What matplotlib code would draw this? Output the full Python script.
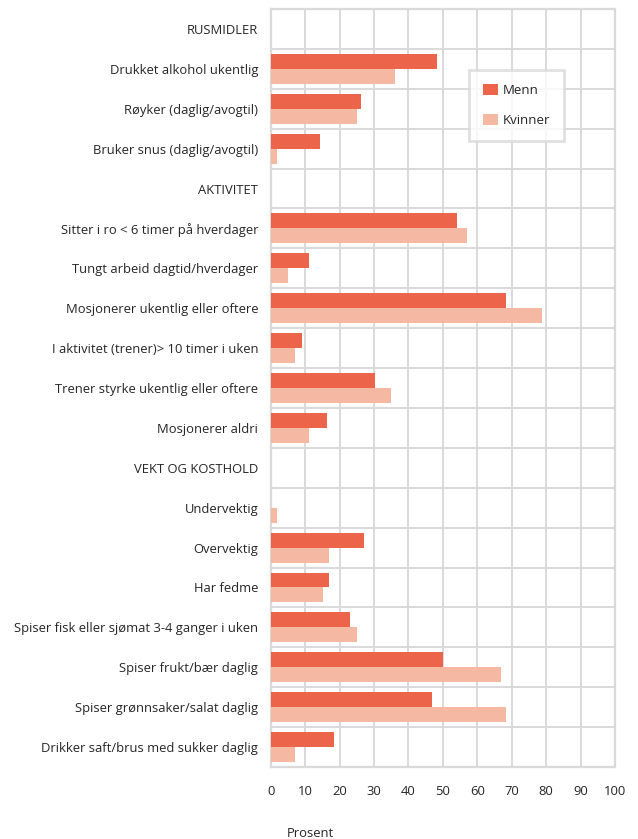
import numpy as np
import matplotlib.pyplot as plt
import matplotlib

plt.rcParams['font.family'] = ['Open Sans', 'DejaVu Sans']
plt.rcParams['font.size'] = 9.4

categories = ['RUSMIDLER', 'Drukket alkohol ukentlig', 'Røyker (daglig/avogtil)',
              'Bruker snus (daglig/avogtil)', 'AKTIVITET',
              'Sitter i ro < 6 timer på hverdager', 'Tungt arbeid dagtid/hverdager',
              'Mosjonerer ukentlig eller oftere', 'I aktivitet (trener)> 10 timer i uken',
              'Trener styrke ukentlig eller oftere', 'Mosjonerer aldri',
              'VEKT OG KOSTHOLD', 'Undervektig', 'Overvektig', 'Har fedme',
              'Spiser fisk eller sjømat 3-4 ganger i uken', 'Spiser frukt/bær daglig',
              'Spiser grønnsaker/salat daglig', 'Drikker saft/brus med sukker daglig']

menn = [0, 48.3, 26.2, 14.3, 0, 54.2, 11.1, 68.2, 9.0, 30.3, 16.3,
        0, 0, 27.1, 16.9, 23.0, 50.1, 46.9, 18.3]
kvinner = [0, 36.1, 25.0, 1.7, 0, 57.1, 5.0, 78.9, 7.0, 35.0, 11.1,
           0, 1.7, 16.9, 15.1, 25.0, 67.0, 68.2, 7.0]

c_menn = '#ec654b'
c_kvinner = '#f5b8a2'
grid_c = '#d9d9d9'

fig = plt.figure(figsize=(6.38, 8.39), dpi=100)
ax = fig.add_axes([270.7 / 638, 1 - 767 / 839, (615 - 270.7) / 638, (767 - 9) / 839])

y = np.arange(len(categories))
h = 0.375
ax.barh(y - h / 2, menn, height=h, color=c_menn, label='Menn', zorder=3)
ax.barh(y + h / 2, kvinner, height=h, color=c_kvinner, label='Kvinner', zorder=3)

ax.set_ylim(len(categories) - 0.5, -0.5)
ax.set_xlim(0, 100)
ax.set_xticks(np.arange(0, 101, 10))
ax.set_yticks(y)
ax.set_yticklabels(categories)
ax.set_yticks(np.arange(-0.5, len(categories), 1), minor=True)

ax.grid(axis='x', which='major', color=grid_c, lw=1.4, zorder=0)
ax.grid(axis='y', which='minor', color=grid_c, lw=1.4, zorder=0)
ax.tick_params(axis='both', which='both', length=0, colors='#262626')
ax.tick_params(axis='x', pad=13)
ax.tick_params(axis='y', pad=9)
for s in ax.spines.values():
    s.set_color(grid_c)
    s.set_linewidth(1.6)

ax.text(0.047, -0.0923, 'Prosent', transform=ax.transAxes, ha='left', va='baseline',
        color='#262626')

leg = ax.legend(loc='upper left', bbox_to_anchor=(469 / 638, 1 - 70 / 839),
                bbox_transform=fig.transFigure, borderaxespad=0, fontsize=9.5,
                frameon=True, fancybox=False, edgecolor=grid_c, borderpad=1.05,
                labelspacing=1.3, handlelength=1.15, handleheight=0.9,
                handletextpad=0.38)
leg.get_frame().set_linewidth(2)
for t in leg.get_texts():
    t.set_color('#262626')

fig.savefig('out.png', dpi=100)
